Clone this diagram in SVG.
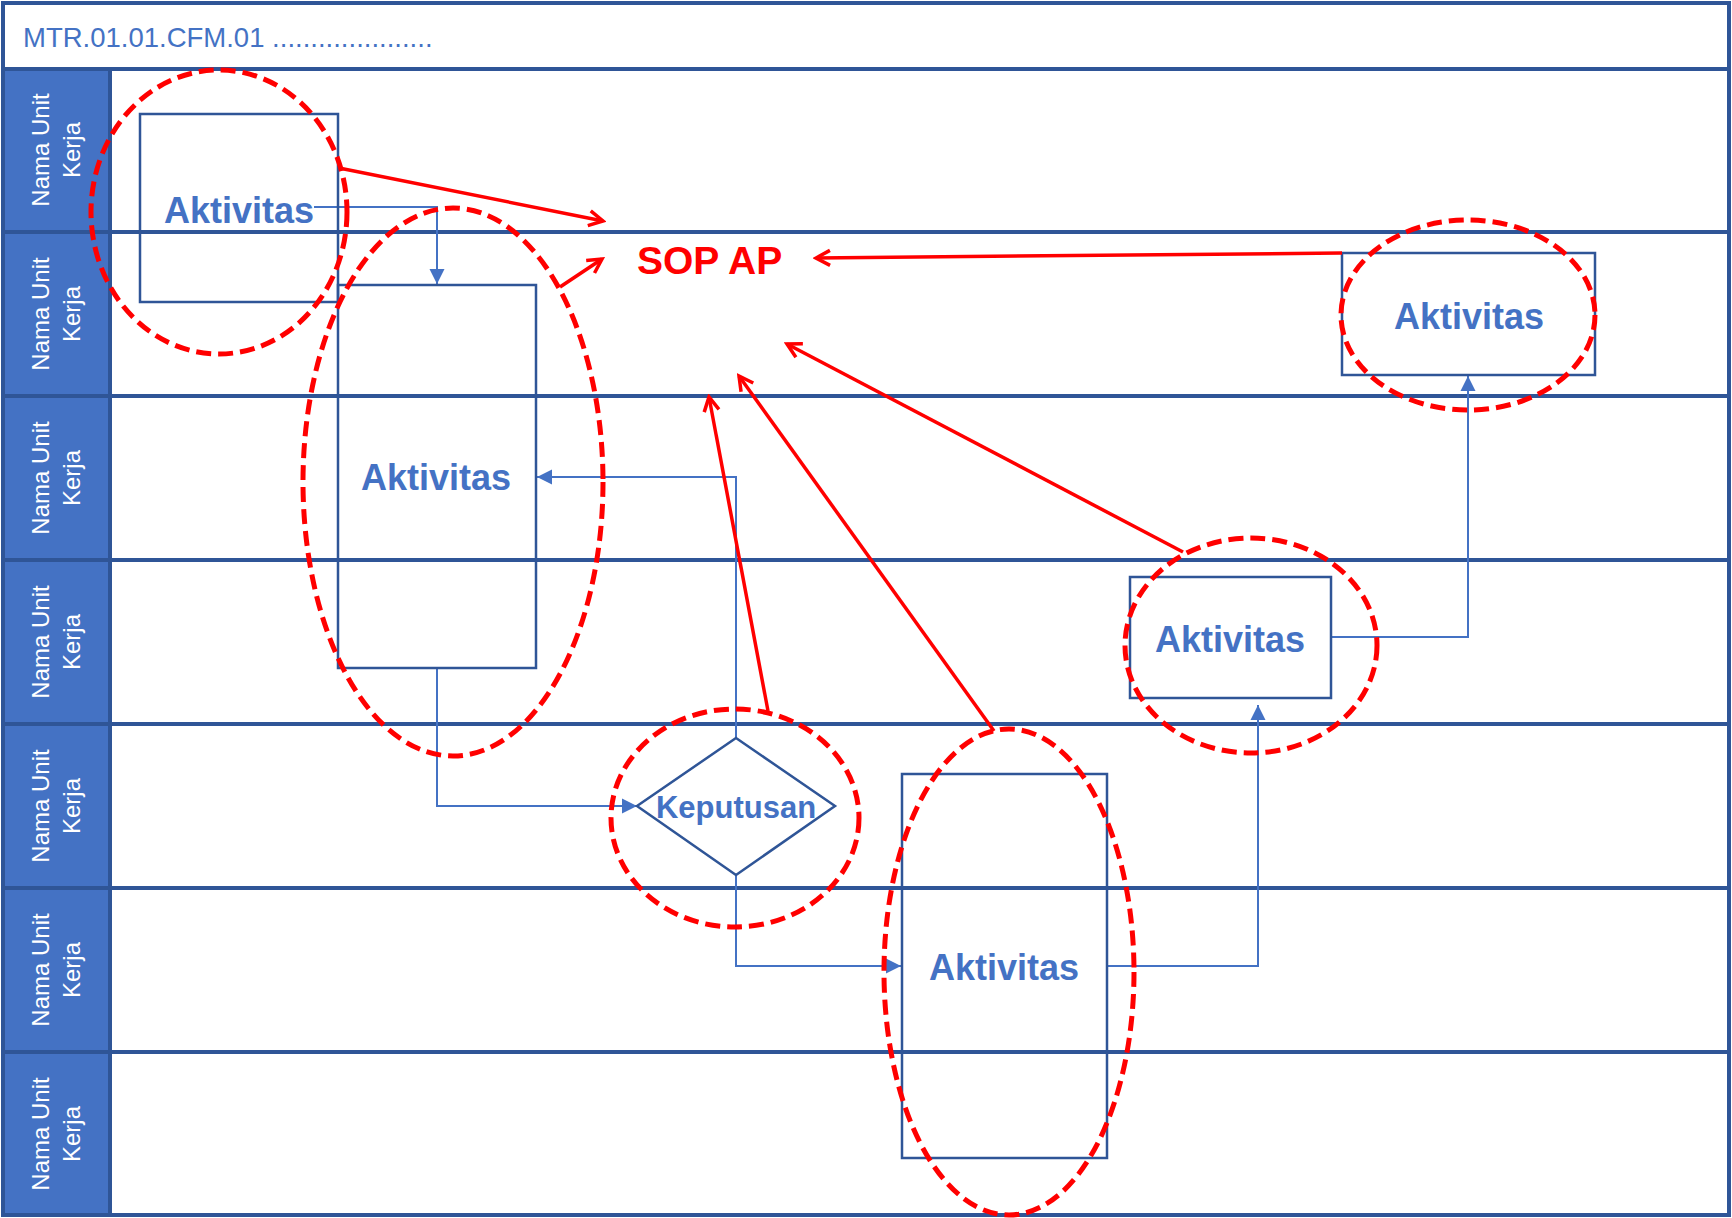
<svg xmlns="http://www.w3.org/2000/svg" width="1732" height="1218" viewBox="0 0 1732 1218">
<style>
.lane{stroke:#2F5597;stroke-width:4;fill:none}
.lbl{font-family:"Liberation Sans",Arial,sans-serif;font-size:24px;fill:#FFFFFF;text-anchor:middle}
.box{fill:none;stroke:#2F5597;stroke-width:2.5}
.nt{font-family:"Liberation Sans",Arial,sans-serif;font-weight:bold;font-size:36px;fill:#4472C4;text-anchor:middle}
.con{fill:none;stroke:#4472C4;stroke-width:2}
.red{fill:none;stroke:#FF0000;stroke-width:3.5}
.ell{fill:none;stroke:#FF0000;stroke-width:5;stroke-dasharray:15 7}
</style>
<defs>
<marker id="ab" viewBox="-17 -9 18 18" refX="0" refY="0" markerWidth="18" markerHeight="18" markerUnits="userSpaceOnUse" orient="auto">
<path d="M-15,-7.5 L0,0 L-15,7.5 Z" fill="#4472C4"/>
</marker>
<marker id="ar" viewBox="-18 -10 21 20" refX="0" refY="0" markerWidth="21" markerHeight="20" markerUnits="userSpaceOnUse" orient="auto">
<path d="M-14,-7.5 L0,0 L-14,7.5" fill="none" stroke="#FF0000" stroke-width="3.5"/>
</marker>
</defs>
<rect x="0" y="0" width="1732" height="1218" fill="#FFFFFF"/>
<g id="pool">
<rect x="3" y="69" width="107" height="1146" fill="#4472C4"/>
<line class="lane" x1="110" y1="69" x2="110" y2="1215"/>
<line class="lane" x1="3" y1="69" x2="1729" y2="69"/>
<line class="lane" x1="3" y1="232" x2="1729" y2="232"/>
<line class="lane" x1="3" y1="396" x2="1729" y2="396"/>
<line class="lane" x1="3" y1="560" x2="1729" y2="560"/>
<line class="lane" x1="3" y1="724" x2="1729" y2="724"/>
<line class="lane" x1="3" y1="888" x2="1729" y2="888"/>
<line class="lane" x1="3" y1="1052" x2="1729" y2="1052"/>
<rect class="lane" x="3" y="3" width="1726" height="1212"/>
<text x="23" y="47" font-family="Liberation Sans, Arial, sans-serif" font-size="27.5" fill="#4472C4">MTR.01.01.CFM.01 .....................</text>
<g transform="translate(56,150) rotate(-90)"><text class="lbl" x="0" y="-7">Nama Unit</text><text class="lbl" x="0" y="24">Kerja</text></g>
<g transform="translate(56,314) rotate(-90)"><text class="lbl" x="0" y="-7">Nama Unit</text><text class="lbl" x="0" y="24">Kerja</text></g>
<g transform="translate(56,478) rotate(-90)"><text class="lbl" x="0" y="-7">Nama Unit</text><text class="lbl" x="0" y="24">Kerja</text></g>
<g transform="translate(56,642) rotate(-90)"><text class="lbl" x="0" y="-7">Nama Unit</text><text class="lbl" x="0" y="24">Kerja</text></g>
<g transform="translate(56,806) rotate(-90)"><text class="lbl" x="0" y="-7">Nama Unit</text><text class="lbl" x="0" y="24">Kerja</text></g>
<g transform="translate(56,970) rotate(-90)"><text class="lbl" x="0" y="-7">Nama Unit</text><text class="lbl" x="0" y="24">Kerja</text></g>
<g transform="translate(56,1134) rotate(-90)"><text class="lbl" x="0" y="-7">Nama Unit</text><text class="lbl" x="0" y="24">Kerja</text></g>
</g>
<g id="connectors">
<path class="con" d="M314,207 H437 V284" marker-end="url(#ab)"/>
<path class="con" d="M736,738 V477 H537" marker-end="url(#ab)"/>
<path class="con" d="M437,668 V806 H637" marker-end="url(#ab)"/>
<path class="con" d="M736,875 V966 H901" marker-end="url(#ab)"/>
<path class="con" d="M1107,966 H1258 V705" marker-end="url(#ab)"/>
<path class="con" d="M1331,637 H1468 V376" marker-end="url(#ab)"/>
</g>
<g id="node1"><rect class="box" x="140" y="114" width="198" height="188"/><text class="nt" x="239" y="223">Aktivitas</text></g>
<g id="node2"><rect class="box" x="338" y="285" width="198" height="383"/><text class="nt" x="436" y="490">Aktivitas</text></g>
<g id="node3"><polygon class="box" points="736,738 835,806 736,875 637,806"/><text class="nt" x="736" y="818" style="font-size:31px">Keputusan</text></g>
<g id="node4"><rect class="box" x="902" y="774" width="205" height="384"/><text class="nt" x="1004" y="980">Aktivitas</text></g>
<g id="node5"><rect class="box" x="1130" y="577" width="201" height="121"/><text class="nt" x="1230" y="652">Aktivitas</text></g>
<g id="node6"><rect class="box" x="1342" y="253" width="253" height="122"/><text class="nt" x="1469" y="329">Aktivitas</text></g>
<g id="highlights">
<ellipse class="ell" cx="219" cy="212" rx="128" ry="142"/>
<ellipse class="ell" cx="453" cy="482" rx="150" ry="274"/>
<ellipse class="ell" cx="735" cy="818" rx="124" ry="109"/>
<ellipse class="ell" cx="1009" cy="972" rx="125" ry="243"/>
<ellipse class="ell" cx="1251" cy="645.5" rx="126" ry="107.5"/>
<ellipse class="ell" cx="1468" cy="315" rx="127" ry="95"/>
</g>
<g id="sop">
<text x="637" y="274" font-family="Liberation Sans, Arial, sans-serif" font-weight="bold" font-size="39" fill="#FF0000">SOP AP</text>
</g>
<g id="red-arrows">
<line class="red" x1="339" y1="168" x2="603" y2="221" marker-end="url(#ar)"/>
<line class="red" x1="560" y1="287" x2="602" y2="259" marker-end="url(#ar)"/>
<line class="red" x1="1342" y1="253" x2="816" y2="258" marker-end="url(#ar)"/>
<line class="red" x1="1183" y1="552" x2="787" y2="344" marker-end="url(#ar)"/>
<line class="red" x1="994" y1="731" x2="739" y2="376" marker-end="url(#ar)"/>
<line class="red" x1="768" y1="711" x2="709" y2="397" marker-end="url(#ar)"/>
</g>
</svg>
